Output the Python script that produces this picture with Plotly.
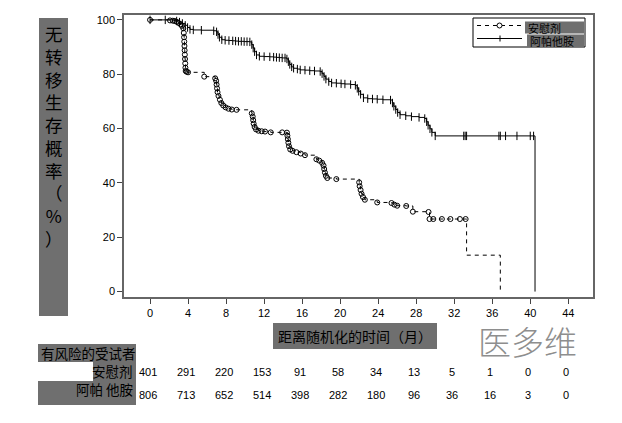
import plotly.graph_objects as go

# Kaplan-Meier steps (months, percent)
placebo_t = [0, 2.1, 2.4, 2.6, 2.8, 3.0, 3.2, 3.35, 3.5, 3.55, 3.58, 3.6, 3.62, 3.64,
             3.66, 3.68, 3.7, 3.72, 3.75, 3.85, 4.0, 5.7, 6.85, 6.95, 7.0, 7.05, 7.1,
             7.2, 7.35, 7.5, 7.7, 7.95, 8.25, 8.6, 9.1, 10.7, 10.8, 10.85, 10.9, 11.0,
             11.15, 11.4, 11.75, 12.1, 12.7, 13.9, 14.4, 14.45, 14.5, 14.55, 14.62,
             14.75, 15.0, 15.4, 15.85, 16.3, 17.5, 17.8, 18.1, 18.25, 18.32, 18.4,
             18.5, 18.65, 19.6, 22.0, 22.05, 22.15, 22.25, 22.4, 22.6, 23.9, 25.4,
             25.7, 26.0, 26.95, 27.65, 29.3, 29.4, 29.8, 30.7, 31.6, 32.6, 33.2,
             33.3, 36.85]
placebo_s = [100, 99.8, 99.7, 99.6, 99.3, 98.9, 98.4, 97.8, 96.9, 95.2, 93.6, 92.0,
             90.4, 88.8, 87.2, 85.6, 84.0, 82.4, 81.2, 80.9, 80.7, 79.1, 78.5, 77.6,
             76.2, 74.8, 73.4, 72.0, 70.6, 69.4, 68.5, 67.8, 67.3, 67.0, 66.9, 65.6,
             64.4, 63.1, 61.8, 60.6, 59.7, 59.2, 59.0, 58.9, 58.6, 58.6, 58.5, 57.4,
             56.1, 54.8, 53.5, 52.3, 51.8, 51.3, 50.8, 50.2, 48.7, 48.2, 47.4, 46.4,
             45.1, 43.8, 42.6, 41.8, 41.4, 40.2, 38.8, 37.4, 36.0, 34.8, 33.8, 32.8,
             32.6, 32.0, 31.6, 31.5, 29.4, 29.3, 26.7, 26.7, 26.7, 26.7, 26.7, 26.7,
             13.4, 0]

apa_t = [0, 1.6, 2.8, 3.1, 3.4, 3.7, 3.95, 4.2, 4.55, 5.4, 6.7, 7.0, 7.15, 7.3, 7.55,
         7.9, 8.3, 8.7, 9.0, 9.3, 9.6, 9.9, 10.2, 10.5, 10.7, 10.85, 11.0, 11.2, 11.5,
         12.0, 12.6, 13.0, 13.3, 13.6, 13.9, 14.2, 14.4, 14.55, 14.7, 14.9, 15.1,
         15.5, 15.8, 16.3, 16.8, 17.3, 17.9, 18.1, 18.3, 18.5, 18.8, 19.1, 19.6,
         20.1, 20.5, 21.1, 21.6, 21.8, 21.95, 22.15, 22.45, 22.9, 23.4, 23.9, 24.5,
         25.3, 25.5, 25.65, 25.85, 26.05, 26.3, 26.9, 27.5, 28.3, 28.9, 29.1, 29.25,
         29.45, 29.65, 30.0, 33.0, 33.15, 33.3, 36.7, 36.85, 37.4, 38.6, 40.0,
         40.35, 40.5]
apa_s = [100, 100, 99.6, 99.2, 98.7, 98.0, 97.2, 96.5, 96.3, 96.2, 96.0, 95.6, 94.6,
         93.6, 92.7, 92.5, 92.4, 92.3, 92.2, 92.1, 92.1, 92.0, 92.0, 91.9, 90.9, 89.6,
         88.3, 87.1, 86.6, 86.5, 86.4, 86.3, 86.2, 86.1, 86.0, 86.0, 85.6, 84.6, 83.6,
         82.7, 82.2, 81.9, 81.6, 81.5, 81.3, 81.2, 81.0, 80.2, 79.2, 78.2, 77.3, 76.8,
         76.7, 76.5, 76.4, 76.2, 75.9, 74.8, 73.7, 72.6, 71.3, 71.0, 70.9, 70.8, 70.6,
         70.5, 69.4, 68.2, 67.0, 65.9, 65.1, 64.7, 64.4, 64.1, 63.7, 62.5, 61.2, 59.9,
         58.6, 57.3, 57.3, 57.3, 57.3, 57.3, 57.3, 57.3, 57.3, 57.3, 57.3, 0]

risk_times = [0, 4, 8, 12, 16, 20, 24, 28, 32, 36, 40, 44]
risk_placebo = [401, 291, 220, 153, 91, 58, 34, 13, 5, 1, 0, 0]
risk_apa = [806, 713, 652, 514, 398, 282, 180, 96, 36, 16, 3, 0]

arm_names = ["安慰剂", "阿帕他胺"]
y_title = "无转移生存概率（％）"
x_title = "距离随机化的时间（月）"
risk_title = "有风险的受试者"

CJK = "Noto Sans CJK SC"
LAT = "Liberation Sans, Arial"
GRAY = "#6f6f6f"

# plot frame in page pixels, used to place the SAS-style boxes
L, R, T, B = 124, 593, 15, 297
W, H = R - L, B - T


def fx(x):
    return (x - L) / W


def fy(y):
    return (B - y) / H


fig = go.Figure()

fig.add_trace(go.Scatter(x=placebo_t, y=placebo_s, mode="lines", line_shape="hv",
                         line=dict(color="black", width=1, dash="4px,4px"),
                         showlegend=False, hoverinfo="skip"))
fig.add_trace(go.Scatter(x=placebo_t[:-2], y=placebo_s[:-2], mode="markers",
                         marker=dict(symbol="circle-open", size=5, color="black",
                                     line=dict(width=1)),
                         name=arm_names[0], showlegend=False))
fig.add_trace(go.Scatter(x=apa_t, y=apa_s, mode="lines", line_shape="hv",
                         line=dict(color="black", width=1),
                         showlegend=False, hoverinfo="skip"))
fig.add_trace(go.Scatter(x=apa_t[:-1], y=apa_s[:-1], mode="markers",
                         marker=dict(symbol="line-ns-open", size=6, color="black",
                                     line=dict(width=1, color="black")),
                         name=arm_names[1], showlegend=False))

shapes = []
annotations = []

# y title box
shapes.append(dict(type="rect", xref="paper", yref="paper", x0=fx(39), x1=fx(68),
                   y0=fy(316), y1=fy(18), fillcolor=GRAY, line_width=0, layer="below"))
annotations.append(dict(xref="paper", yref="paper", x=fx(53.5), y=fy(19),
                        xanchor="center", yanchor="top", showarrow=False,
                        text="<br>".join(y_title), align="center",
                        font=dict(family=CJK, size=17.5, color="black")))

# x title box
shapes.append(dict(type="rect", xref="paper", yref="paper", x0=fx(273), x1=fx(437),
                   y0=fy(349), y1=fy(323), fillcolor=GRAY, line_width=0))
annotations.append(dict(xref="paper", yref="paper", x=fx(355), y=fy(336),
                        xanchor="center", yanchor="middle", showarrow=False,
                        text=x_title, font=dict(family=CJK, size=14, color="black")))

# risk table labels
shapes.append(dict(type="rect", xref="paper", yref="paper", x0=fx(38), x1=fx(136),
                   y0=fy(362), y1=fy(344), fillcolor=GRAY, line_width=0))
shapes.append(dict(type="rect", xref="paper", yref="paper", x0=fx(93), x1=fx(136),
                   y0=fy(381), y1=fy(362), fillcolor=GRAY, line_width=0))
shapes.append(dict(type="rect", xref="paper", yref="paper", x0=fx(38), x1=fx(136),
                   y0=fy(405), y1=fy(381), fillcolor=GRAY, line_width=0))
annotations.append(dict(xref="paper", yref="paper", x=fx(39), y=fy(353),
                        xanchor="left", yanchor="middle", showarrow=False,
                        text=risk_title, font=dict(family=CJK, size=13.5, color="black")))
annotations.append(dict(xref="paper", yref="paper", x=fx(135), y=fy(371),
                        xanchor="right", yanchor="middle", showarrow=False,
                        text=arm_names[0], font=dict(family=CJK, size=13.5, color="black")))
annotations.append(dict(xref="paper", yref="paper", x=fx(135), y=fy(389),
                        xanchor="right", yanchor="middle", showarrow=False,
                        text="阿帕 他胺", font=dict(family=CJK, size=13.5, color="black")))

for t, a, b in zip(risk_times, risk_placebo, risk_apa):
    annotations.append(dict(xref="x", yref="paper", x=t, y=fy(372), xshift=-2,
                            xanchor="center", yanchor="middle", showarrow=False,
                            text=str(a), font=dict(family=LAT, size=11, color="black")))
    annotations.append(dict(xref="x", yref="paper", x=t, y=fy(395), xshift=-2,
                            xanchor="center", yanchor="middle", showarrow=False,
                            text=str(b), font=dict(family=LAT, size=11, color="black")))

# watermark
annotations.append(dict(xref="paper", yref="paper", x=fx(527), y=fy(341),
                        xanchor="center", yanchor="middle", showarrow=False,
                        text="医多维",
                        font=dict(family=CJK, size=33, color="#8e8e8e", weight=300)))

# legend drawn by hand, SAS style
shapes.append(dict(type="rect", xref="paper", yref="paper", x0=fx(473), x1=fx(585),
                   y0=fy(47), y1=fy(18), fillcolor="white",
                   line=dict(color="black", width=1)))
shapes.append(dict(type="rect", xref="paper", yref="paper", x0=fx(525), x1=fx(584),
                   y0=fy(33.5), y1=fy(21.5), fillcolor=GRAY, line_width=0))
shapes.append(dict(type="rect", xref="paper", yref="paper", x0=fx(527), x1=fx(584),
                   y0=fy(47), y1=fy(34.5), fillcolor=GRAY, line_width=0))
shapes.append(dict(type="line", xref="paper", yref="paper", x0=fx(477), x1=fx(522),
                   y0=fy(25.5), y1=fy(25.5),
                   line=dict(color="black", width=1, dash="4px,4px")))
shapes.append(dict(type="circle", xref="paper", yref="paper", x0=fx(497), x1=fx(502),
                   y0=fy(28), y1=fy(23), fillcolor="white",
                   line=dict(color="black", width=1)))
shapes.append(dict(type="line", xref="paper", yref="paper", x0=fx(477), x1=fx(522),
                   y0=fy(38.5), y1=fy(38.5), line=dict(color="black", width=1)))
shapes.append(dict(type="line", xref="paper", yref="paper", x0=fx(500), x1=fx(500),
                   y0=fy(41.5), y1=fy(35.5), line=dict(color="black", width=1)))
annotations.append(dict(xref="paper", yref="paper", x=fx(526), y=fy(27.5),
                        xanchor="left", yanchor="middle", showarrow=False,
                        text=arm_names[0], font=dict(family=CJK, size=11, color="black")))
annotations.append(dict(xref="paper", yref="paper", x=fx(528), y=fy(40.8),
                        xanchor="left", yanchor="middle", showarrow=False,
                        text=arm_names[1], font=dict(family=CJK, size=11, color="black")))

fig.update_layout(
    width=622, height=423,
    margin=dict(l=L, r=622 - R, t=T, b=423 - B, pad=0),
    paper_bgcolor="white", plot_bgcolor="white",
    showlegend=False,
    shapes=shapes, annotations=annotations,
    font=dict(family=LAT, size=11, color="black"),
)
fig.update_xaxes(range=[-2.74, 46.6], tickvals=risk_times, ticks="outside", ticklen=5,
                 tickcolor="#444", showgrid=False, zeroline=False, showline=True,
                 linecolor="#666", linewidth=1.5, mirror=True,
                 tickfont=dict(family=LAT, size=11, color="black"))
fig.update_yaxes(range=[-2.0, 101.8], tickvals=[0, 20, 40, 60, 80, 100], ticks="outside",
                 ticklen=5, tickcolor="#444", showgrid=False, zeroline=False,
                 showline=True, linecolor="#666", linewidth=1.5, mirror=True,
                 tickfont=dict(family=LAT, size=11, color="black"))

# page body margin would shift the whole picture by 8px
fig.write_html("out.html", config={"displayModeBar": False},
               post_script="document.body.style.margin='0';")
